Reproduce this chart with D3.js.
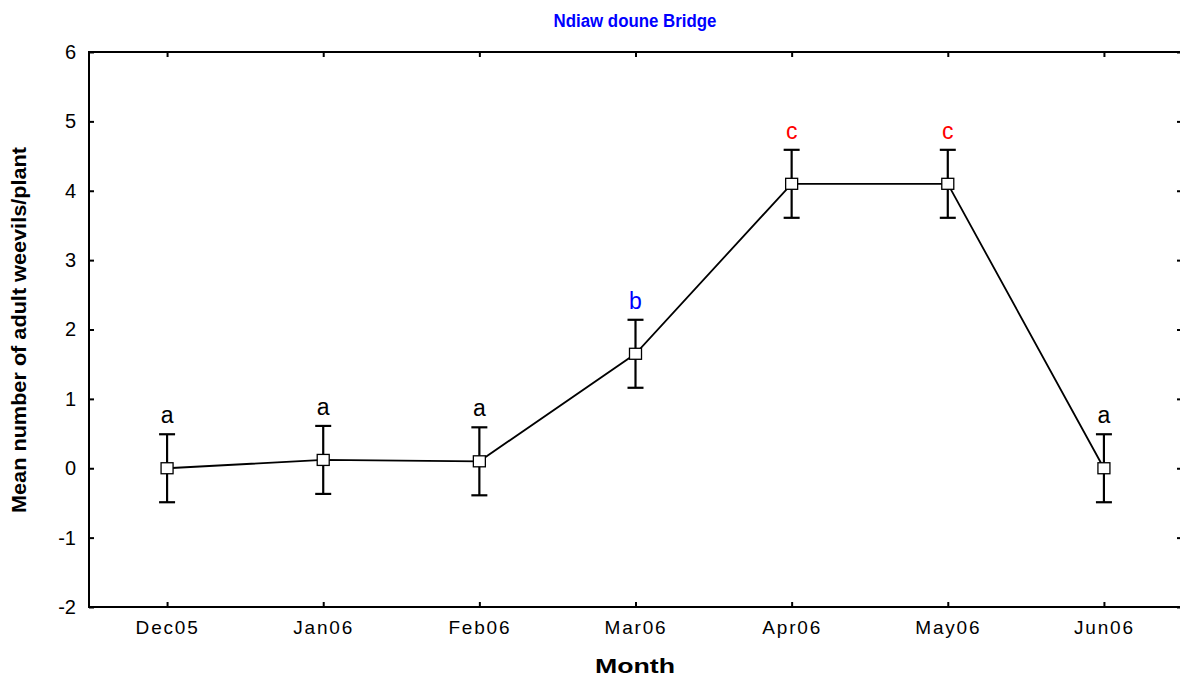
<!DOCTYPE html>
<html>
<head>
<meta charset="utf-8">
<script src="https://cdn.jsdelivr.net/npm/d3@7"></script>
<style>
  html, body { margin: 0; padding: 0; background: #fff; overflow: hidden; }
  svg { display: block; font-family: "Liberation Sans", Arial, sans-serif; }
</style>
</head>
<body>
<svg id="chart" width="1180" height="679"></svg>
<script>
// ---- data ----
const months = ["Dec05", "Jan06", "Feb06", "Mar06", "Apr06", "May06", "Jun06"];
const means = [0.0, 0.12, 0.10, 1.65, 4.10, 4.10, 0.0];
const errors = [0.49, 0.49, 0.49, 0.49, 0.49, 0.49, 0.49];
const groups = ["a", "a", "a", "b", "c", "c", "a"];
const groupColors = { a: "#000000", b: "#0000ff", c: "#ff0000" };
const yTicks = [-2, -1, 0, 1, 2, 3, 4, 5, 6];
const title = "Ndiaw doune Bridge";
const xTitle = "Month";
const yTitle = "Mean number of adult weevils/plant";

(function () {
// ---- layout ----
const mLeft = 89, mRight = 1182, mTop = 52, mBottom = 607;
const svg = d3.select("#chart");

const x = d3.scalePoint().domain(months).range([mLeft, mRight]).padding(0.5);
const y = d3.scaleLinear().domain([-2, 6]).range([mBottom, mTop]);

// frame
svg.append("rect")
  .attr("x", mLeft).attr("y", mTop)
  .attr("width", mRight - mLeft).attr("height", mBottom - mTop)
  .attr("fill", "none").attr("stroke", "#000").attr("stroke-width", 2);

// axes
const styleAxis = g => {
  g.select(".domain").remove();
  g.selectAll(".tick line").attr("stroke", "#000").attr("stroke-width", 2);
  g.selectAll(".tick text").attr("fill", "#000").attr("font-size", 19);
};

svg.append("g").attr("transform", `translate(${mLeft},0)`)
  .call(d3.axisLeft(y).tickValues(yTicks).tickSize(-5).tickPadding(13).tickFormat(d => String(d)))
  .call(styleAxis)
  .call(g => g.selectAll(".tick text").attr("font-size", 20));

svg.append("g").attr("transform", `translate(${mRight},0)`)
  .call(d3.axisRight(y).tickValues(yTicks).tickSize(-5).tickFormat(""))
  .call(styleAxis);

svg.append("g").attr("transform", `translate(0,${mBottom})`)
  .call(d3.axisBottom(x).tickSize(-5).tickPadding(14))
  .call(styleAxis)
  .call(g => g.selectAll(".tick text").attr("letter-spacing", "1.8px"));

svg.append("g").attr("transform", `translate(0,${mTop})`)
  .call(d3.axisTop(x).tickSize(-5).tickFormat(""))
  .call(styleAxis);

// line
const pts = months.map((m, i) => ({ m, v: means[i], e: errors[i], g: groups[i] }));
svg.append("path")
  .datum(pts)
  .attr("fill", "none").attr("stroke", "#000").attr("stroke-width", 1.8)
  .attr("d", d3.line().x(d => x(d.m)).y(d => y(d.v)));

// error bars
const eb = svg.append("g").attr("stroke", "#000").attr("stroke-width", 2.2);
pts.forEach(d => {
  const cx = x(d.m);
  eb.append("line").attr("x1", cx).attr("x2", cx).attr("y1", y(d.v + d.e)).attr("y2", y(d.v - d.e));
  eb.append("line").attr("x1", cx - 8).attr("x2", cx + 8).attr("y1", y(d.v + d.e)).attr("y2", y(d.v + d.e));
  eb.append("line").attr("x1", cx - 8).attr("x2", cx + 8).attr("y1", y(d.v - d.e)).attr("y2", y(d.v - d.e));
});

// markers
svg.append("g").selectAll("rect").data(pts).join("rect")
  .attr("x", d => x(d.m) - 6).attr("y", d => y(d.v) - 5.5)
  .attr("width", 12).attr("height", 11)
  .attr("fill", "#fff").attr("stroke", "#000").attr("stroke-width", 1.3);

// group letters
svg.append("g").selectAll("text").data(pts).join("text")
  .attr("x", d => x(d.m)).attr("y", d => y(d.v + d.e) - 11)
  .attr("text-anchor", "middle").attr("font-size", 23)
  .attr("fill", d => groupColors[d.g])
  .text(d => d.g);

// titles
svg.append("text")
  .attr("x", 635).attr("y", 27).attr("text-anchor", "middle")
  .attr("font-size", 18).attr("font-weight", "bold").attr("fill", "#0000ff")
  .attr("textLength", 163).attr("lengthAdjust", "spacingAndGlyphs")
  .text(title);

svg.append("text")
  .attr("x", 635).attr("y", 673).attr("text-anchor", "middle")
  .attr("font-size", 20).attr("font-weight", "bold").attr("fill", "#000")
  .attr("textLength", 80).attr("lengthAdjust", "spacingAndGlyphs")
  .text(xTitle);

svg.append("text")
  .attr("transform", "translate(26,330) rotate(-90)")
  .attr("text-anchor", "middle")
  .attr("font-size", 21).attr("font-weight", "bold").attr("fill", "#000")
  .attr("textLength", 366).attr("lengthAdjust", "spacingAndGlyphs")
  .text(yTitle);
})();
</script>
</body>
</html>
